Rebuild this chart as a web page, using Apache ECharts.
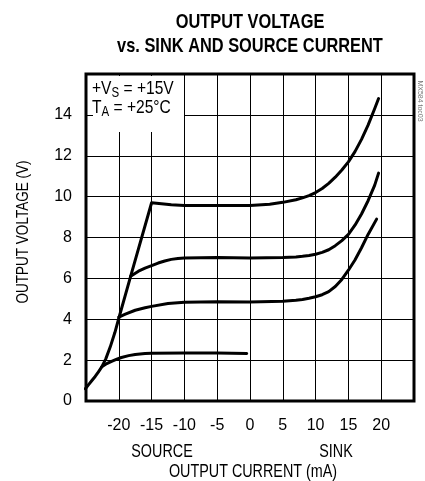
<!DOCTYPE html>
<html><head><meta charset="utf-8">
<script src="https://cdn.jsdelivr.net/npm/echarts@6/dist/echarts.min.js"></script>
<style>html,body{margin:0;padding:0;background:#fff}#c{width:425px;height:481px}</style>
</head><body><div id="c"></div>
<script>
const FONT = "'Liberation Sans',Arial,sans-serif";
const xTicks = [-25, 25, 5];       // min, max, interval
const yTicks = [0, 16, 2];
const curveA = [[-25.1,0.6],[-24.6,0.8],[-24.1,1.0],[-23.6,1.2],[-23.1,1.43],[-22.6,1.67],[-22,2.05],[-21.3,2.65],[-20.6,3.35],[-20,4.05],[-18.2,6.1],[-15,9.7],[-12,9.6],[-10,9.57],[-5,9.56],[0,9.57],[3,9.63],[5,9.72],[7,9.85],[8,9.94],[9,10.05],[10,10.2],[11,10.4],[12,10.65],[13,10.95],[14,11.3],[15,11.7],[16,12.2],[17,12.8],[18,13.5],[19,14.3],[19.6,14.8]];
const curveB = [[-18.2,6.1],[-17,6.35],[-16,6.5],[-15,6.62],[-14,6.75],[-13,6.85],[-12,6.93],[-11,6.97],[-10,7.0],[-5,7.02],[0,7.0],[5,7.02],[7,7.05],[8,7.08],[9,7.12],[10,7.18],[11,7.27],[12,7.4],[13,7.6],[14,7.85],[15,8.15],[16,8.6],[17,9.15],[18,9.8],[19,10.55],[19.6,11.15]];
const curveC = [[-20,4.1],[-19,4.25],[-17.5,4.44],[-16,4.56],[-15,4.63],[-12.5,4.77],[-10,4.83],[-5,4.86],[0,4.85],[5,4.88],[7,4.93],[8,4.97],[9,5.03],[10,5.1],[11,5.2],[12,5.35],[13,5.6],[14,5.95],[15,6.4],[16,6.9],[17,7.5],[18,8.15],[19.3,8.9]];
const curveD = [[-22.6,1.67],[-22,1.8],[-21.1,1.94],[-20.3,2.05],[-19.6,2.13],[-18.5,2.22],[-17.5,2.28],[-16,2.32],[-15,2.34],[-10,2.35],[-5,2.35],[-0.5,2.33]];

const chart = echarts.init(document.getElementById('c'), null, {renderer:'canvas'});
const mk = d => ({type:'line', data:d, smooth:false, showSymbol:false, symbol:'none',
  lineStyle:{color:'#000', width:3, join:'round', cap:'round'}, z:3, silent:true});
const SX = 0.82;
const txt = (x, y, text, size, extra, sx) => Object.assign({type:'text', z:5, x:x, y:y, scaleX:sx||SX,
  style:Object.assign({text:text, fontFamily:FONT, fontSize:size, fill:'#000', textAlign:'center', textVerticalAlign:'middle'}, extra||{})});
chart.setOption({
  animation:false,
  grid:{left:86, right:11, top:74, bottom:80, show:true, borderWidth:3, borderColor:'#000', backgroundColor:'transparent'},
  xAxis:{type:'value', min:xTicks[0], max:xTicks[1], interval:xTicks[2],
    axisLine:{show:false}, axisTick:{show:false},
    axisLabel:{fontFamily:FONT, fontSize:16, color:'#000', margin:17,
      formatter:v => (v===xTicks[0]||v===xTicks[1]) ? '' : String(v)},
    splitLine:{lineStyle:{color:'#000', width:1}}},
  yAxis:{type:'value', min:yTicks[0], max:yTicks[1], interval:yTicks[2],
    axisLine:{show:false}, axisTick:{show:false},
    axisLabel:{fontFamily:FONT, fontSize:16, color:'#000', margin:14,
      formatter:v => v===yTicks[1] ? '' : String(v)},
    splitLine:{lineStyle:{color:'#000', width:1}}},
  series:[mk(curveA), mk(curveB), mk(curveC), mk(curveD)],
  graphic:[
    {type:'rect', z:1, shape:{x:93, y:76, width:91, height:56}, style:{fill:'#fff'}},
    txt(250, 22, 'OUTPUT VOLTAGE', 21, {fontWeight:'bold'}, 0.78),
    txt(250, 46, 'vs. SINK AND SOURCE CURRENT', 21, {fontWeight:'bold'}, 0.78),
    {type:'text', z:5, x:92, y:89, scaleX:SX, style:{text:'{n|+V}{s|S}{n| = +15V}', textVerticalAlign:'middle',
      rich:{n:{fontFamily:FONT, fontSize:19, color:'#000'}, s:{fontFamily:FONT, fontSize:14, color:'#000', padding:[8,0,0,0]}}}},
    {type:'text', z:5, x:92, y:108, scaleX:SX, style:{text:'{n|T}{s|A}{n| = +25°C}', textVerticalAlign:'middle',
      rich:{n:{fontFamily:FONT, fontSize:19, color:'#000'}, s:{fontFamily:FONT, fontSize:14, color:'#000', padding:[8,0,0,0]}}}},
    txt(162, 452, 'SOURCE', 17.5),
    txt(336, 452, 'SINK', 17.5),
    txt(253, 472, 'OUTPUT CURRENT (mA)', 17.5),
    Object.assign(txt(23, 232, 'OUTPUT VOLTAGE (V)', 16.5), {rotation:Math.PI/2}),
    Object.assign(txt(420, 101, 'MX584 toc03', 7, {fill:'#777'}, 1), {rotation:-Math.PI/2})
  ]
});
</script></body></html>
